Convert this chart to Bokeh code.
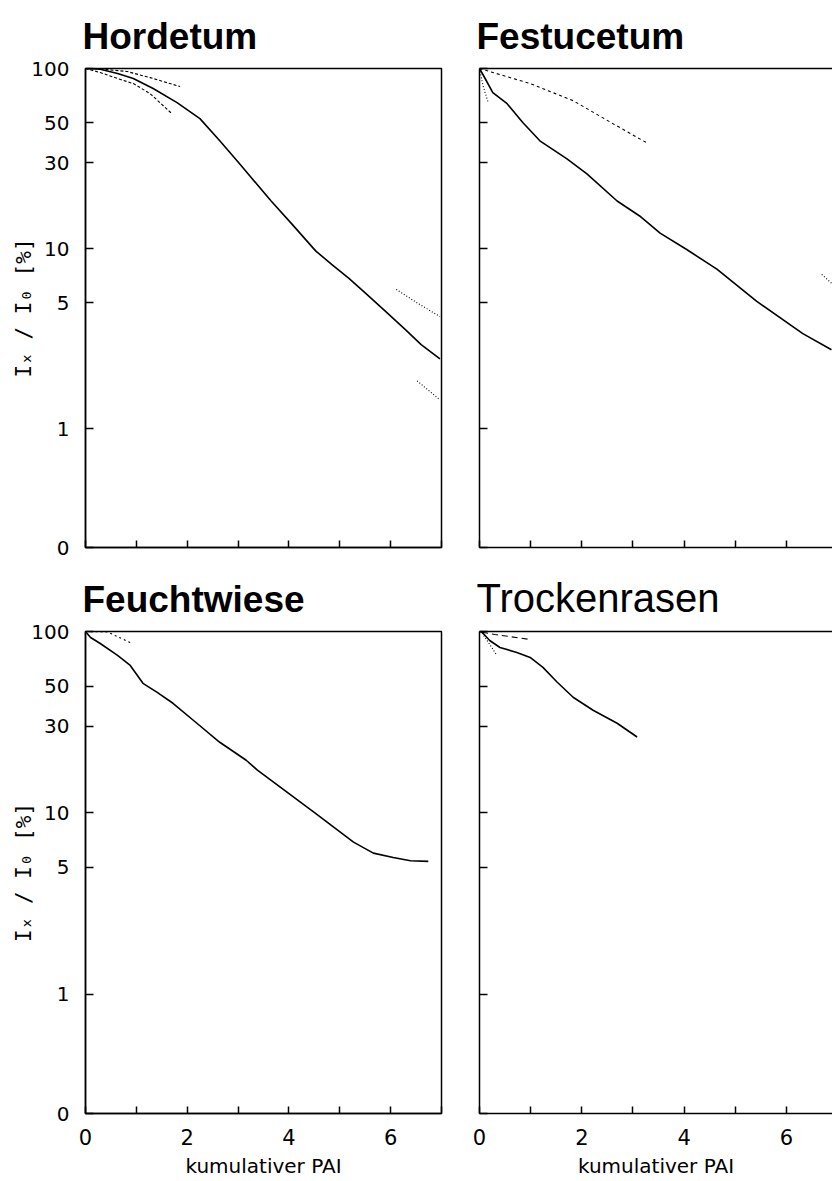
from bokeh.plotting import figure
from bokeh.models import FixedTicker, LinearAxis, Range1d, PrintfTickFormatter
from bokeh.layouts import column, row
from bokeh.embed import file_html
from bokeh.resources import INLINE

# ---------------- data (cumulative PAI vs Ix/I0 in %) ----------------
# Hordetum
hord_pai = [0.0, 0.29, 0.63, 0.94, 1.33, 1.80, 2.25, 2.64, 3.03, 3.65, 4.06, 4.53, 4.84, 5.18, 5.51, 5.90, 6.29, 6.60, 6.97]
hord_i = [100, 99, 93.8, 88, 77.4, 64.7, 52.7, 39.7, 29.6, 18.4, 13.7, 9.7, 8.2, 6.85, 5.65, 4.49, 3.56, 2.94, 2.45]
hord_a_pai = [0.0, 0.29, 0.82, 1.27, 1.86]
hord_a_i = [100, 99.5, 96.2, 89, 79.4]
hord_b_pai = [0.0, 0.29, 0.63, 0.94, 1.27, 1.70]
hord_b_i = [100, 95, 88, 82.5, 72.6, 56.1]
hord_c_pai = [6.11, 6.54, 6.97]
hord_c_i = [5.95, 4.97, 4.2]
hord_d_pai = [6.52, 6.97]
hord_d_i = [1.85, 1.45]

# Festucetum
fest_pai = [0.0, 0.11, 0.26, 0.54, 0.85, 1.18, 1.71, 2.10, 2.69, 3.13, 3.53, 4.05, 4.64, 5.42, 6.32, 6.88]
fest_i = [100, 88, 73.5, 63.8, 50, 39.7, 31.5, 26, 18.4, 15.2, 12.2, 9.9, 7.7, 5.1, 3.38, 2.75]
fest_a_pai = [0.0, 0.99, 1.83, 2.61, 3.27]
fest_a_i = [100, 82.5, 66.3, 49.4, 38.7]
fest_b_pai = [0.0, 0.07, 0.17]
fest_b_i = [100, 80, 64.7]
fest_c_pai = [6.69, 6.89]
fest_c_i = [7.2, 6.4]

# Feuchtwiese
feucht_pai = [0.0, 0.10, 0.29, 0.63, 0.88, 1.13, 1.41, 1.72, 2.19, 2.64, 3.16, 3.38, 4.51, 5.27, 5.66, 6.05, 6.39, 6.74]
feucht_i = [100, 92.7, 85.9, 73.8, 65, 51.8, 46.2, 40.2, 31.2, 24.5, 19.5, 17.2, 10, 6.9, 6.0, 5.67, 5.45, 5.4]
feucht_a_pai = [0.0, 0.43, 0.92]
feucht_a_i = [100, 99.4, 85.9]

# Trockenrasen
trock_pai = [0.0, 0.05, 0.2, 0.4, 0.73, 0.99, 1.24, 1.52, 1.83, 2.22, 2.69, 3.08]
trock_i = [100, 99, 89.2, 81.6, 76.7, 71.9, 63.4, 52.5, 43.4, 36.8, 31.2, 26.2]
trock_a_pai = [0.05, 0.3, 0.99]
trock_a_i = [99, 96.3, 90.3]
trock_b_pai = [0.05, 0.2, 0.34]
trock_b_i = [98, 85, 73.8]

titles = ["Hordetum", "Festucetum", "Feuchtwiese", "Trockenrasen"]

Y_BOTTOM = 0.22          # bottom of the axis, labelled "0"
y_ticks = [Y_BOTTOM, 1, 5, 10, 30, 50, 100]
x_ticks = [0, 2, 4, 6]
x_minor = [1, 3, 5, 7]

FONT = "DejaVu Sans"
TITLE_FONT = "Liberation Sans"


def hide_labels(ax):
    ax.major_label_text_color = None
    ax.major_label_text_font_size = "1px"
    ax.major_label_standoff = 0


def make_panel(title, width, height, bl, br, bt, bb, x_end, left_col, bottom_row, bold):
    p = figure(width=width, height=height, y_axis_type="log",
               x_range=Range1d(0, x_end), y_range=Range1d(Y_BOTTOM, 100),
               output_backend="svg", toolbar_location=None, title=title,
               min_border_left=bl, min_border_right=br,
               min_border_top=bt, min_border_bottom=bb)
    p.grid.visible = False
    p.background_fill_color = "white"
    p.border_fill_color = "white"

    p.title.text_font = TITLE_FONT
    p.title.text_font_size = "37px" if bold else "40px"
    p.title.text_font_style = "bold" if bold else "normal"
    p.title.text_color = "black"
    p.title.align = "left"
    p.title.offset = -3
    p.title.standoff = 23

    ya = p.left[0]
    ya.ticker = FixedTicker(ticks=y_ticks, minor_ticks=[])
    ya.formatter = PrintfTickFormatter(format="%d")
    ya.axis_line_color = "black"
    ya.axis_line_width = 1.5
    ya.major_tick_in = 8
    ya.major_tick_out = 0
    ya.major_tick_line_width = 1.5
    ya.minor_tick_in = 0
    ya.minor_tick_out = 0
    if left_col:
        ya.major_label_text_font = FONT
        ya.major_label_text_font_size = "20px"
        ya.major_label_text_color = "black"
        ya.major_label_standoff = 16
        ya.axis_label = "I\u2093 / I\u2080 [%]"
        ya.axis_label_text_font = "DejaVu Sans Mono"
        ya.axis_label_text_font_size = "21px"
        ya.axis_label_text_font_style = "normal"
        ya.axis_label_text_color = "black"
        ya.axis_label_standoff = -8
    else:
        hide_labels(ya)

    xa = p.below[0]
    xa.ticker = FixedTicker(ticks=x_ticks, minor_ticks=x_minor)
    xa.axis_line_color = "black"
    xa.axis_line_width = 1.5
    xa.major_tick_in = 7
    xa.major_tick_out = 0
    xa.minor_tick_in = 7
    xa.minor_tick_out = 0
    xa.major_tick_line_width = 1.5
    xa.minor_tick_line_width = 1.5
    xa.minor_tick_line_color = "black"
    if bottom_row:
        xa.major_label_text_font = FONT
        xa.major_label_text_font_size = "21px"
        xa.major_label_text_color = "black"
        xa.major_label_standoff = 15
        xa.axis_label = "kumulativer PAI"
        xa.axis_label_text_font = FONT
        xa.axis_label_text_font_size = "20px"
        xa.axis_label_text_font_style = "normal"
        xa.axis_label_text_color = "black"
        xa.axis_label_standoff = 6
    else:
        hide_labels(xa)

    if left_col:
        p.outline_line_color = "black"
        p.outline_line_width = 1.5
    else:
        # right-hand panels are cut off at the page edge: no right border
        p.outline_line_color = None
        top = LinearAxis(ticker=FixedTicker(ticks=[]), axis_line_color="black",
                         axis_line_width=1.5, major_tick_in=0, major_tick_out=0,
                         minor_tick_in=0, minor_tick_out=0)
        hide_labels(top)
        p.add_layout(top, "above")
    return p


def solid(p, x, y):
    p.line(x, y, line_color="black", line_width=1.6)


def dotted(p, x, y, dash="2 3"):
    p.line(x, y, line_color="black", line_width=1.1, line_dash=dash)


p1 = make_panel(titles[0], 451, 561, 85, 10, 68, 14, 7.0, True, False, True)
solid(p1, hord_pai, hord_i)
dotted(p1, hord_a_pai, hord_a_i, "3 2")
dotted(p1, hord_b_pai, hord_b_i, "3 2")
dotted(p1, hord_c_pai, hord_c_i, "1 2")
dotted(p1, hord_d_pai, hord_d_i, "1 2")

p2 = make_panel(titles[1], 381, 561, 28, 0, 68, 14, 6.9, False, False, True)
solid(p2, fest_pai, fest_i)
dotted(p2, fest_a_pai, fest_a_i, "3 3")
dotted(p2, fest_b_pai, fest_b_i, "1 2")
dotted(p2, fest_c_pai, fest_c_i, "1 2")

p3 = make_panel(titles[2], 451, 620, 85, 10, 70, 68, 7.0, True, True, True)
solid(p3, feucht_pai, feucht_i)
dotted(p3, feucht_a_pai, feucht_a_i, "2 3")

p4 = make_panel(titles[3], 381, 620, 28, 0, 70, 68, 6.9, False, True, False)
solid(p4, trock_pai, trock_i)
dotted(p4, trock_a_pai, trock_a_i, "6 4")
dotted(p4, trock_b_pai, trock_b_i, "1 2")

layout = column(row(p1, p2), row(p3, p4))
open("out.html", "w").write(file_html(layout, INLINE))
